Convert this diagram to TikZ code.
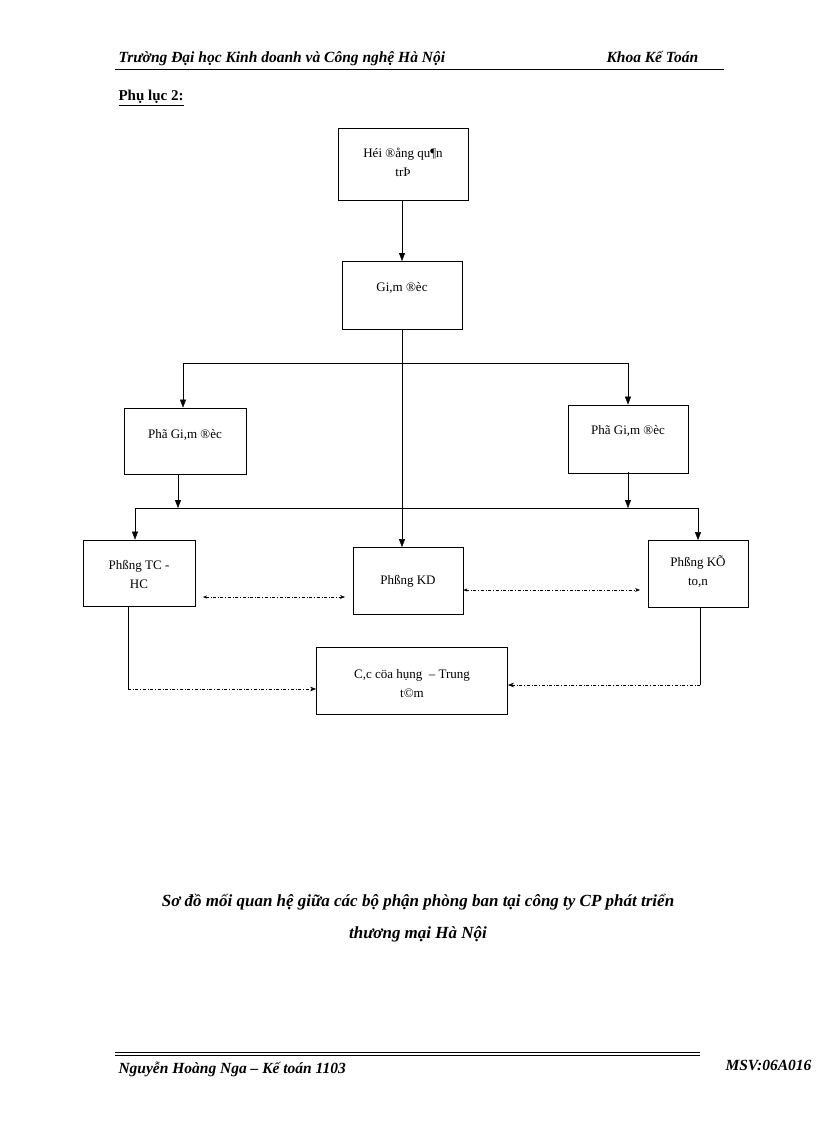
\documentclass[tikz,border=0pt]{standalone}
\usepackage{fontspec}
\setmainfont{Liberation Serif}
\usetikzlibrary{arrows.meta}
\begin{document}
\begin{tikzpicture}[x=1pt,y=-1pt,
 box/.style={draw,thick,minimum width=#1,inner sep=0pt},
 lbl/.style={align=center,font=\fontsize{13}{19}\selectfont},
 arr/.style={-{Triangle[length=8pt,width=6pt]}},
 dd/.style={dash dot,-{Stealth[length=6pt]}},
 hdr/.style={font=\fontsize{15.5}{17}\selectfont\bfseries\itshape,anchor=base west}]
\useasboundingbox (0,0) rectangle (816,1123);
\node[hdr] (h1) at (115,63) {Trường Đại học Kinh doanh và Công nghệ Hà Nội};
\node[hdr] (h2) at (603,63) {Khoa Kế Toán};
\draw[thick] (115,69) -- (724,69);
\node[hdr,font=\fontsize{15}{17}\selectfont\bfseries] (pl) at (115,101) {\underline{Phụ lục 2:}};
% boxes
\node[box=130pt,minimum height=72pt] (hd) at (403,164) {};
\node[lbl] (hdt) at (403,162) {Héi ®ång qu¶n\\ trÞ};
\node[box=120pt,minimum height=68pt] (gd) at (402,295) {};
\node[lbl] (gdt) at (402,288) {Gi,m ®èc};
\node[box=122pt,minimum height=66pt] (pl1) at (185,441) {};
\node[lbl] (p1t) at (185,435) {Phã Gi,m ®èc};
\node[box=120pt,minimum height=68pt] (pr1) at (628,439) {};
\node[lbl] (p2t) at (628,431) {Phã Gi,m ®èc};
\node[box=112pt,minimum height=66pt] (tc) at (139,573) {};
\node[lbl] (tct) at (139,574) {Phßng TC -\\ HC};
\node[box=110pt,minimum height=67pt] (kd) at (408,581) {};
\node[lbl] (kdt) at (408,581) {Phßng KD};
\node[box=100pt,minimum height=67pt] (kt) at (698,574) {};
\node[lbl] (ktt) at (698,572) {Phßng KÕ\\ to,n};
\node[box=191pt,minimum height=67pt] (ch) at (412,681) {};
\node[lbl] (cht) at (412,684) {C,c cöa hụng \ – Trung\\ t©m};
% connectors
\draw[arr] (402,200) -- (402,261);
\draw[arr] (gd.south) -- (gd.south |- kd.north);
\coordinate (a1) at (183,363); \coordinate (a2) at (628,363);
\draw[arr] (a1) -- (pl1.north -| a1);
\draw (a1) -- (a2);
\draw[arr] (a2) -- (pr1.north);
\coordinate (b1) at (135,508); \coordinate (b2) at (698,508);
\draw[arr] (178,474) -- (178,508);
\draw[arr] (628,472) -- (628,508);
\draw (b1) -- (b2);
\draw[arr] (b1) -- (tc.north -| b1);
\draw[arr] (b2) -- (kt.north);
\draw[dash dot,{Stealth[length=4pt]}-{Stealth[length=5pt]}] (203,597) -- (345,597);
\draw[dash dot,{Stealth[length=4pt]}-{Stealth[length=5pt]}] (kd.east |- 0,590) -- (640,590);
\coordinate (c1) at (128,689); \coordinate (c2) at (700,685);
\draw (tc.south -| c1) -- (c1);
\draw[dd] (c1) -- (ch.west |- c1);
\draw (kt.south -| c2) -- (c2);
\draw[dd] (c2) -- (ch.east |- c2);
% caption
\node[font=\fontsize{17}{20}\selectfont\bfseries\itshape,align=center] (cap) at (418,918) {Sơ đồ mối quan hệ giữa các bộ phận phòng ban tại công ty CP phát triển\\[12pt] thương mại Hà Nội};
\draw (115,1052) -- (700,1052); \draw (115,1055) -- (700,1055);
\node[hdr] (f1) at (115,1073) {Nguyễn Hoàng Nga – Kế toán 1103};
\node[hdr] (f2) at (722,1070) {MSV:06A016};
\end{tikzpicture}
\end{document}
